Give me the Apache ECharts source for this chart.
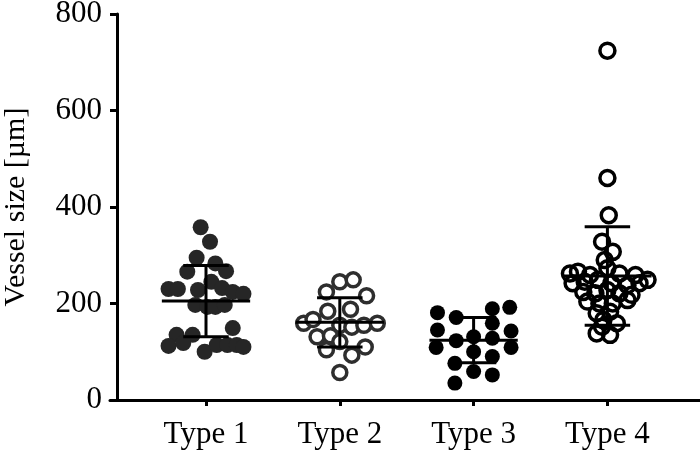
<!DOCTYPE html>
<html>
<head>
<meta charset="utf-8">
<script src="https://cdn.jsdelivr.net/npm/echarts@6/dist/echarts.min.js"></script>
<style>
  html, body { margin: 0; padding: 0; background: #fff; }
  #main { width: 700px; height: 454px; }
</style>
</head>
<body>
<div id="main"></div>
<script>
var categories = ['Type 1', 'Type 2', 'Type 3', 'Type 4'];
var yTicks = [0, 200, 400, 600, 800];

// values, with horizontal jitter (in category units)
var type1 = [358, 328, 295, 283, 266, 267, 230, 230, 228, 245, 232, 224, 220, 197, 193, 193, 197, 149, 135, 135, 112, 118, 100, 114, 114, 114, 110];
var type1Jit = [-0.04, 0.03, -0.07, 0.07, -0.14, 0.15, -0.28, -0.21, -0.06, 0.04, 0.12, 0.20, 0.28, -0.08, 0.01, 0.07, 0.14, 0.20, -0.22, -0.10, -0.28, -0.17, -0.01, 0.08, 0.16, 0.23, 0.28];

var type2 = [224, 245, 249, 216, 184, 188, 159, 167, 155, 151, 155, 159, 131, 133, 121, 104, 93, 110, 57];
var type2Jit = [-0.10, 0.00, 0.10, 0.20, -0.09, 0.08, -0.27, -0.20, 0.00, 0.09, 0.18, 0.28, -0.17, -0.07, 0.00, -0.10, 0.09, 0.19, 0.00];

var type3 = [181, 171, 189, 192, 145, 159, 143, 131, 123, 128, 109, 109, 100, 76, 90, 59, 52, 35];
var type3Jit = [-0.27, -0.13, 0.14, 0.27, -0.27, 0.14, 0.28, 0.00, -0.13, 0.14, -0.28, 0.28, 0.00, -0.14, 0.14, 0.00, 0.14, -0.14];

var type4 = [724, 460, 383, 328, 307, 290, 273, 262, 266, 259, 262, 259, 249, 242, 245, 249, 242, 238, 242, 224, 221, 228, 221, 218, 204, 200, 200, 207, 180, 183, 166, 159, 138, 135, 152];
var type4Jit = [0.00, 0.00, 0.01, -0.04, 0.04, -0.02, 0.00, -0.28, -0.22, -0.13, 0.09, 0.21, 0.30, -0.26, -0.17, -0.07, 0.03, 0.15, 0.24, -0.18, -0.09, 0.00, 0.09, 0.18, -0.15, -0.06, 0.04, 0.15, -0.08, 0.02, -0.03, 0.07, -0.08, 0.02, -0.04];

var means = [205, 161, 124, 257];
var sds = [74, 51, 47, 102];

function toPoints(pos, vals, jit) {
    var out = [];
    for (var i = 0; i < vals.length; i++) {
        out.push([pos + jit[i], vals[i]]);
    }
    return out;
}

function barData() {
    var out = [];
    for (var i = 0; i < means.length; i++) {
        out.push([i + 1, means[i], sds[i]]);
    }
    return out;
}

function renderBar(params, api) {
    var x = api.value(0), m = api.value(1), s = api.value(2);
    var unit = api.size([1, 0])[0];
    var c = api.coord([x, m]);
    var top = api.coord([x, m + s]);
    var bot = api.coord([x, m - s]);
    var mw = unit * 0.33, cw = unit * 0.17;
    var st = { stroke: '#000', lineWidth: 3 };
    return {
        type: 'group',
        children: [
            { type: 'line', shape: { x1: c[0] - mw, y1: c[1], x2: c[0] + mw, y2: c[1] }, style: st },
            { type: 'line', shape: { x1: c[0], y1: top[1], x2: c[0], y2: bot[1] }, style: st },
            { type: 'line', shape: { x1: c[0] - cw, y1: top[1], x2: c[0] + cw, y2: top[1] }, style: st },
            { type: 'line', shape: { x1: c[0] - cw, y1: bot[1], x2: c[0] + cw, y2: bot[1] }, style: st }
        ]
    };
}

var chart = echarts.init(document.getElementById('main'));
var font = 'Liberation Serif';

var option = {
    animation: false,
    backgroundColor: '#fff',
    grid: { left: 110, right: 0, top: 14, bottom: 54, containLabel: false, outerBoundsMode: 'none' },
    xAxis: {
        type: 'value',
        min: 0.2825,
        max: 4.692,
        splitLine: { show: false },
        axisLine: { lineStyle: { color: '#000', width: 3 } },
        axisTick: { customValues: [1, 2, 3, 4], length: 6, lineStyle: { color: '#000', width: 3 } },
        axisLabel: {
            customValues: [1, 2, 3, 4],
            formatter: function (v) { return categories[Math.round(v) - 1]; },
            color: '#000', fontFamily: font, fontSize: 31, margin: 19
        }
    },
    yAxis: {
        type: 'value',
        min: yTicks[0],
        max: yTicks[yTicks.length - 1],
        interval: 200,
        offset: -7,
        name: 'Vessel size [µm]',
        nameLocation: 'middle',
        nameGap: 86,
        nameTextStyle: { color: '#000', fontFamily: font, fontSize: 30 },
        splitLine: { show: false },
        axisLine: { show: true, lineStyle: { color: '#000', width: 3 } },
        axisTick: { show: true, length: 7, lineStyle: { color: '#000', width: 3 } },
        axisLabel: { color: '#000', fontFamily: font, fontSize: 31, margin: 15 }
    },
    series: [
        {
            type: 'scatter', data: toPoints(1, type1, type1Jit), symbolSize: 16,
            itemStyle: { color: '#262626', opacity: 1 }
        },
        {
            type: 'scatter', data: toPoints(2, type2, type2Jit), symbolSize: 14,
            itemStyle: { color: '#fff', borderColor: '#2e2e2e', borderWidth: 3.5, opacity: 1 }
        },
        {
            type: 'scatter', data: toPoints(3, type3, type3Jit), symbolSize: 15,
            itemStyle: { color: '#000', opacity: 1 }
        },
        {
            type: 'scatter', data: toPoints(4, type4, type4Jit), symbolSize: 15,
            itemStyle: { color: 'rgba(255,255,255,0)', borderColor: '#000', borderWidth: 3.5, opacity: 1 }
        },
        {
            type: 'custom', renderItem: renderBar, data: barData(),
            encode: { x: 0, y: 1 }, z: 10, silent: true
        }
    ]
};

chart.setOption(option);
</script>
</body>
</html>
